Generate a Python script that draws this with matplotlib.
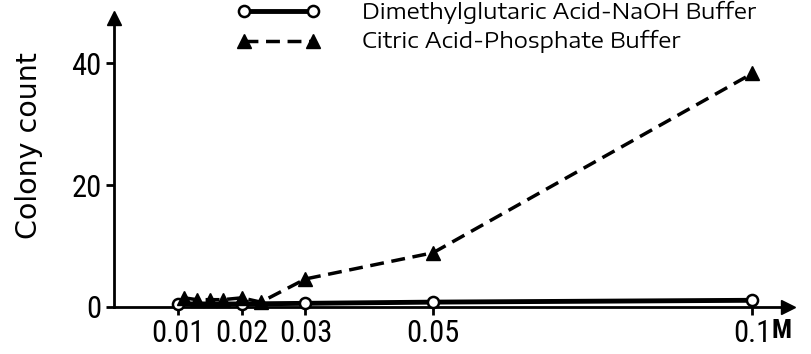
import matplotlib
matplotlib.use("Agg")
import matplotlib.pyplot as plt

# concentracion (M) y recuento de colonias
conc_dmg = [0.01, 0.02, 0.03, 0.05, 0.1]
count_dmg = [0.5, 0.5, 0.6, 0.8, 1.1]

conc_cit = [0.011, 0.013, 0.015, 0.017, 0.02, 0.023, 0.03, 0.05, 0.1]
count_cit = [1.5, 1.2, 1.2, 1.2, 1.5, 0.8, 4.6, 8.9, 38.3]

xticks = [0.01, 0.02, 0.03, 0.05, 0.1]
xlabels = ["0.01", "0.02", "0.03", "0.05", "0.1"]
yticks = [0, 20, 40]

narrow = ["Roboto Condensed", "DejaVu Sans"]
wide = ["Encode Sans Expanded", "DejaVu Sans"]

fig = plt.figure(figsize=(8.12, 3.54), dpi=100)
ax = fig.add_axes([114 / 812, 1 - 307 / 354, (788 - 114) / 812, (307 - 18) / 354])

ax.plot(conc_dmg, count_dmg, color="black", lw=3.5, marker="o", markersize=8,
        markerfacecolor="white", markeredgecolor="black", markeredgewidth=1.8,
        label="Dimethylglutaric Acid-NaOH Buffer", zorder=3, clip_on=False)
ax.plot(conc_cit, count_cit, color="black", lw=2.5, ls=(0, (4, 2.2)), marker="^",
        markersize=10, label="Citric Acid-Phosphate Buffer", zorder=4, clip_on=False)

ax.set_xlim(0, 0.1056)
ax.set_ylim(0, 47.4)

for s in ["top", "right"]:
    ax.spines[s].set_visible(False)
for s in ["left", "bottom"]:
    ax.spines[s].set_linewidth(2)

# flechas de los ejes
ax.plot(1, 0, ">k", markersize=10, transform=ax.transAxes, clip_on=False)
ax.plot(0, 1, "^k", markersize=10, transform=ax.transAxes, clip_on=False)

ax.set_xticks(xticks)
ax.set_xticklabels(xlabels, family=narrow, fontsize=22)
ax.set_yticks(yticks)
ax.set_yticklabels([str(v) for v in yticks], family=narrow, fontsize=22)
ax.tick_params(axis="both", direction="out", length=6, width=2, pad=3)
ax.annotate("M", xy=(0.1, 0), xycoords="data", xytext=(14, -9),
            textcoords="offset points", ha="left", va="top",
            fontsize=19, fontweight="bold", family=narrow)

ax.set_ylabel("Colony count", fontsize=20.5)
ax.yaxis.set_label_coords(-0.105, 0.56)

ax.legend(loc="upper left", bbox_to_anchor=(226 / 812, 1.03), bbox_transform=fig.transFigure,
          frameon=False, numpoints=2, handlelength=3.7, handletextpad=1.9,
          labelspacing=0.3, prop={"family": wide, "size": 16}, borderpad=0)

fig.savefig("out.png", dpi=100)
